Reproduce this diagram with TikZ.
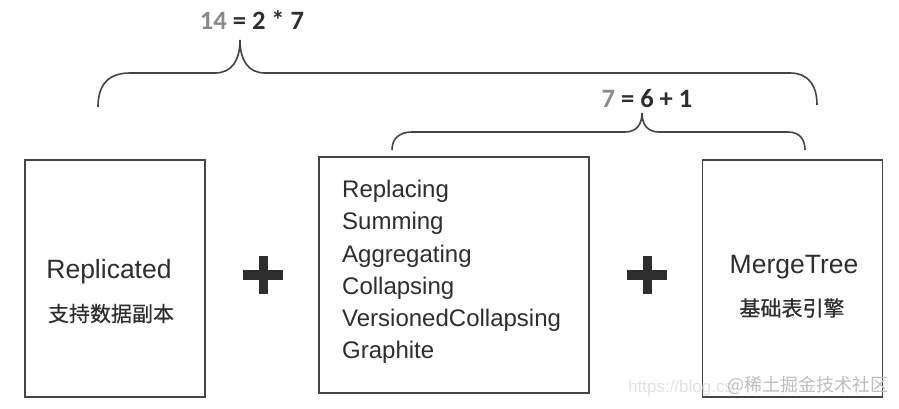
\documentclass[tikz,border=0pt]{standalone}
\usepackage{fontspec}
\setmainfont{Liberation Sans}
\newfontfamily\cjk[FakeBold=0.5]{Noto Sans CJK SC}
\newfontfamily\cjkwm{Noto Sans CJK SC}
\newfontfamily\calib{Carlito}
\definecolor{txt}{HTML}{2E2E2E}
\definecolor{edge}{HTML}{454545}
\definecolor{gry}{HTML}{8A8A8A}
\definecolor{wm}{HTML}{BDBDBD}
\definecolor{wmurl}{HTML}{E2E2E2}
\begin{document}
\begin{tikzpicture}[x=1pt,y=-1pt,
  enginebox/.style={draw=edge,line width=1.7pt,fill=white,inner sep=0pt},
  entext/.style={inner sep=0pt,text=txt,font=\fontsize{26.5}{30}\selectfont,anchor=base},
  cntext/.style={inner sep=0pt,text=txt,font=\cjk\fontsize{21}{24}\selectfont,anchor=base},
  listtext/.style={inner sep=0pt,text=txt,font=\fontsize{24}{28}\selectfont,anchor=base west},
  formula/.style={inner sep=0pt,text=txt,font=\calib\bfseries\fontsize{26.5}{30}\selectfont,anchor=base},
  bracepath/.style={draw=edge,line width=1.6pt},
  plusbar/.style={fill=txt,draw=none}
]
\useasboundingbox[fill=white] (0,0) rectangle (899,409);

% boxes
\node[enginebox,minimum width=180pt,minimum height=237pt] (rep) at (115,278.5) {};
\node[enginebox,minimum width=270pt,minimum height=236pt] (mid) at (454,275) {};
\node[enginebox,minimum width=180pt,minimum height=237pt] (mt) at (792.5,278.5) {};

% left box text
\node[entext] (reptxt) at (109,278) {Replicated};
\node[cntext] (repcn) at (111,321.5) {支持数据副本};

% right box text
\node[entext] (mttxt) at (794,273) {MergeTree};
\node[cntext] (mtcn) at (792,316) {基础表引擎};

% middle list
\node[listtext] (l1) at (342,197) {Replacing};
\node[listtext] (l2) at (342,229.5) {Summing};
\node[listtext] (l3) at (342,262) {Aggregating};
\node[listtext] (l4) at (342,294) {Collapsing};
\node[listtext] (l5) at (342,326.5) {VersionedCollapsing};
\node[listtext] (l6) at (342,358.5) {Graphite};

% plus signs
\fill[plusbar] (243,270) rectangle (283,280);
\fill[plusbar] (258.5,256) rectangle (267.5,294);
\fill[plusbar] (627,270) rectangle (667,280);
\fill[plusbar] (642.5,256) rectangle (651.5,294);

% big brace
\draw[bracepath] (98,107) .. controls (98,85) and (108,73) .. (130,73) -- (215,73)
  .. controls (232,73) and (240,60) .. (240,40)
  .. controls (240,60) and (248,73) .. (265,73) -- (790,73)
  .. controls (808,73) and (817,85) .. (817,105);
\node[formula] (f1) at (252,30) {\textcolor{gry}{14} = 2 * 7};

% small brace
\draw[bracepath] (392,150) .. controls (392,138) and (400,132) .. (412,132) -- (625,132)
  .. controls (636,132) and (642,125) .. (642,113)
  .. controls (642,125) and (648,132) .. (659,132) -- (788,132)
  .. controls (800,132) and (805,140) .. (805,150);
\node[formula] (f2) at (647,108) {\textcolor{gry}{7} = 6 + 1};

% watermark
\node[inner sep=0pt,anchor=base west,text=wmurl,font=\fontsize{17}{20}\selectfont] (url) at (628,392) {https://blog.cs};
\node[inner sep=0pt,anchor=base west,text=wm,font=\cjkwm\fontsize{18}{22}\selectfont] (wmk) at (727,391) {@稀土掘金技术社区};
\end{tikzpicture}
\end{document}
